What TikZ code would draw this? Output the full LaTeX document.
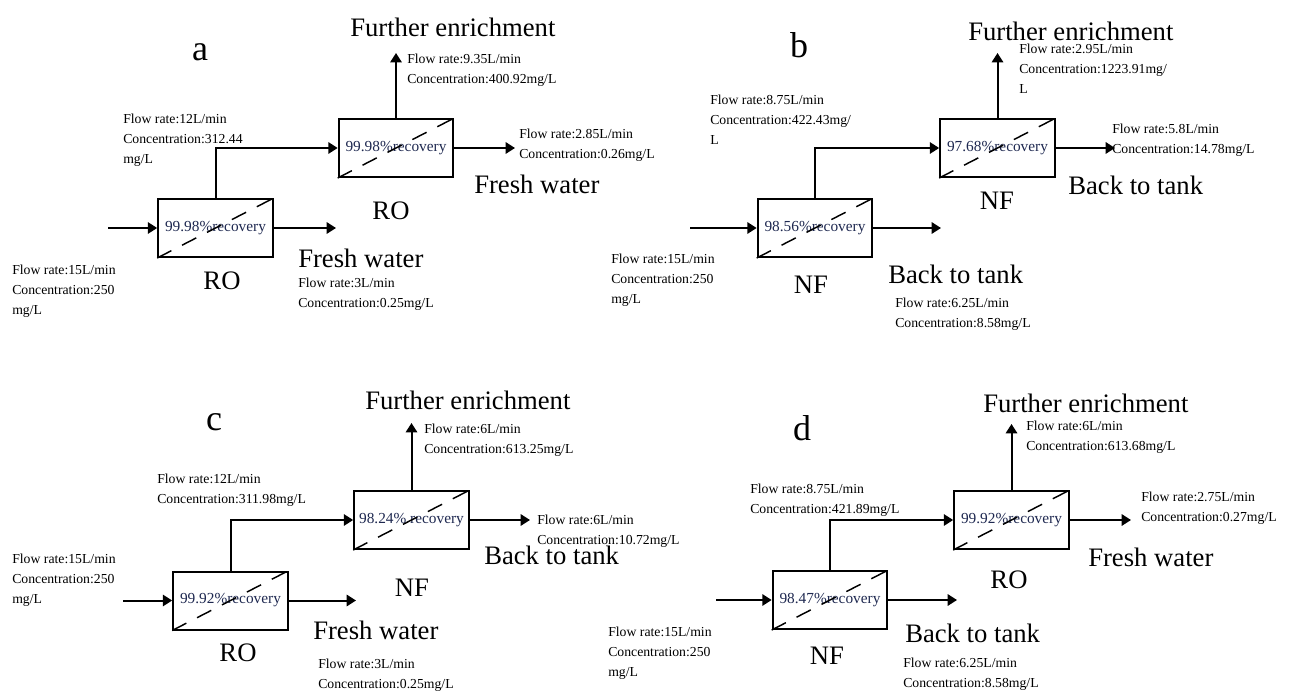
\documentclass[tikz,border=0pt]{standalone}
\usepackage{fontspec}
\setmainfont{Liberation Serif}
\usetikzlibrary{arrows.meta}
\definecolor{rectxt}{RGB}{30,40,80}
\begin{document}
\begin{tikzpicture}[x=0.75pt,y=-0.75pt,
 box/.style={draw, line width=1.5pt, minimum width=86pt, minimum height=43.5pt, inner sep=0pt, font=\fontsize{11.5}{13}\selectfont, text=rectxt},
 diag/.style={line width=1.1pt, dash pattern=on 12pt off 9pt},
 flow/.style={line width=1.5pt, -{Triangle[length=7pt,width=8.5pt]}},
 info/.style={anchor=north west, inner sep=0pt, align=left, font=\fontsize{10.3}{15}\selectfont},
 big/.style={anchor=west, inner sep=0pt, font=\fontsize{20}{24}\selectfont},
 unit/.style={inner sep=0pt, font=\fontsize{20}{24}\selectfont},
 panel/.style={inner sep=0pt, font=\fontsize{27}{30}\selectfont}]
\useasboundingbox (0,0) rectangle (1301,691);

% ---------------- panel a ----------------
\node[panel] (la) at (200,52) {a};
\node[box] (a1) at (215.5,228) {99.98\%recovery};
\node[box] (a2) at (396,148) {99.98\%recovery};
\draw[diag] (a1.south west) -- (a1.north east);
\draw[diag] (a2.south west) -- (a2.north east);
\coordinate (ain) at (108,228);
\coordinate (aout) at (336,228);
\coordinate (atop) at (396,53);
\coordinate (aright) at (515,148);
\draw[flow] (ain) -- (a1.west);
\draw[flow] (a1.east) -- (aout);
\draw[flow] (a1.north) |- (a2.west);
\draw[flow] (a2.north) -- (atop);
\draw[flow] (a2.east) -- (aright);
\node[big] (afe) at (350,27) {Further enrichment};
\node[info] (at1) at (407,54) {Flow rate:9.35L/min\\Concentration:400.92mg/L};
\node[info] (at2) at (123,114) {Flow rate:12L/min\\Concentration:312.44\\mg/L};
\node[info] (at3) at (519,129) {Flow rate:2.85L/min\\Concentration:0.26mg/L};
\node[big] (afw1) at (474,184) {Fresh water};
\node[unit] (aro2) at (391,211) {RO};
\node[big] (afw2) at (298,258) {Fresh water};
\node[unit] (aro1) at (222,281) {RO};
\node[info] (at4) at (298,278) {Flow rate:3L/min\\Concentration:0.25mg/L};
\node[info] (at5) at (12,265) {Flow rate:15L/min\\Concentration:250\\mg/L};

% ---------------- panel b ----------------
\node[panel] (lb) at (799,45) {b};
\node[box] (b1) at (815,228) {98.56\%recovery};
\node[box] (b2) at (997.5,148) {97.68\%recovery};
\draw[diag] (b1.south west) -- (b1.north east);
\draw[diag] (b2.south west) -- (b2.north east);
\coordinate (bin) at (690,228);
\coordinate (bout) at (941,228);
\coordinate (btop) at (997.5,53);
\coordinate (bright) at (1115,148);
\draw[flow] (bin) -- (b1.west);
\draw[flow] (b1.east) -- (bout);
\draw[flow] (b1.north) |- (b2.west);
\draw[flow] (b2.north) -- (btop);
\draw[flow] (b2.east) -- (bright);
\node[big] (bfe) at (968,31) {Further enrichment};
\node[info] (bt1) at (1019,44) {Flow rate:2.95L/min\\Concentration:1223.91mg/\\L};
\node[info] (bt2) at (710,95) {Flow rate:8.75L/min\\Concentration:422.43mg/\\L};
\node[info] (bt3) at (1112,124) {Flow rate:5.8L/min\\Concentration:14.78mg/L};
\node[big] (bbt1) at (1068,185) {Back to tank};
\node[unit] (bnf2) at (997,201) {NF};
\node[big] (bbt2) at (888,274) {Back to tank};
\node[unit] (bnf1) at (811,285) {NF};
\node[info] (bt4) at (895,298) {Flow rate:6.25L/min\\Concentration:8.58mg/L};
\node[info] (bt5) at (611,254) {Flow rate:15L/min\\Concentration:250\\mg/L};

% ---------------- panel c ----------------
\node[panel] (lc) at (214,422) {c};
\node[box] (c1) at (230.5,600.5) {99.92\%recovery};
\node[box] (c2) at (411.5,520) {98.24\% recovery};
\draw[diag] (c1.south west) -- (c1.north east);
\draw[diag] (c2.south west) -- (c2.north east);
\coordinate (cin) at (123,600.5);
\coordinate (cout) at (356,600.5);
\coordinate (ctop) at (411.5,423);
\coordinate (cright) at (530,520);
\draw[flow] (cin) -- (c1.west);
\draw[flow] (c1.east) -- (cout);
\draw[flow] (c1.north) |- (c2.west);
\draw[flow] (c2.north) -- (ctop);
\draw[flow] (c2.east) -- (cright);
\node[big] (cfe) at (365,400) {Further enrichment};
\node[info] (ct1) at (424,424) {Flow rate:6L/min\\Concentration:613.25mg/L};
\node[info] (ct2) at (157,474) {Flow rate:12L/min\\Concentration:311.98mg/L};
\node[info] (ct3) at (537,515) {Flow rate:6L/min\\Concentration:10.72mg/L};
\node[big] (cbt) at (484,555) {Back to tank};
\node[unit] (cnf) at (412,588) {NF};
\node[big] (cfw) at (313,630) {Fresh water};
\node[unit] (cro) at (238,653) {RO};
\node[info] (ct4) at (318,659) {Flow rate:3L/min\\Concentration:0.25mg/L};
\node[info] (ct5) at (12,554) {Flow rate:15L/min\\Concentration:250\\mg/L};

% ---------------- panel d ----------------
\node[panel] (ld) at (802,428) {d};
\node[box] (d1) at (830,600) {98.47\%recovery};
\node[box] (d2) at (1011.5,520) {99.92\%recovery};
\draw[diag] (d1.south west) -- (d1.north east);
\draw[diag] (d2.south west) -- (d2.north east);
\coordinate (din) at (716,600);
\coordinate (dout) at (957,600);
\coordinate (dtop) at (1011.5,424);
\coordinate (dright) at (1131,520);
\draw[flow] (din) -- (d1.west);
\draw[flow] (d1.east) -- (dout);
\draw[flow] (d1.north) |- (d2.west);
\draw[flow] (d2.north) -- (dtop);
\draw[flow] (d2.east) -- (dright);
\node[big] (dfe) at (983,403) {Further enrichment};
\node[info] (dt1) at (1026,421) {Flow rate:6L/min\\Concentration:613.68mg/L};
\node[info] (dt2) at (750,484) {Flow rate:8.75L/min\\Concentration:421.89mg/L};
\node[info] (dt3) at (1141,492) {Flow rate:2.75L/min\\Concentration:0.27mg/L};
\node[big] (dfw) at (1088,557) {Fresh water};
\node[unit] (dro) at (1009,580) {RO};
\node[big] (dbt) at (905,633) {Back to tank};
\node[unit] (dnf) at (827,656) {NF};
\node[info] (dt4) at (903,658) {Flow rate:6.25L/min\\Concentration:8.58mg/L};
\node[info] (dt5) at (608,627) {Flow rate:15L/min\\Concentration:250\\mg/L};
\end{tikzpicture}
\end{document}
